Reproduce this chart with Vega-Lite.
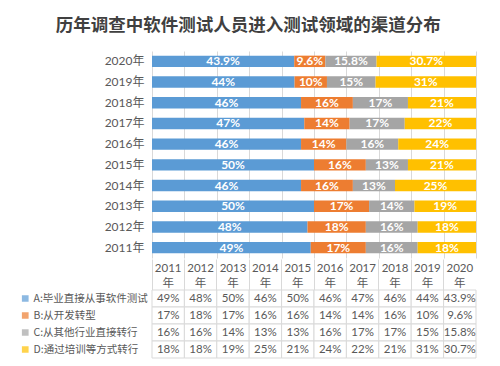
{
  "$schema": "https://vega.github.io/schema/vega-lite/v6.json",
  "background": "white",
  "padding": {"left": 20, "top": 16, "right": 20, "bottom": 5},
  "title": {"text": "历年调查中软件测试人员进入测试领域的渠道分布", "fontSize": 17.5, "font": "Noto Sans CJK SC", "fontWeight": "bold", "color": "#404040", "anchor": "middle", "frame": "bounds", "offset": 17},
  "data": {"values": [
    {"year": "2011", "series": "A:毕业直接从事软件测试", "value": 0.49},
    {"year": "2011", "series": "B:从开发转型", "value": 0.17},
    {"year": "2011", "series": "C:从其他行业直接转行", "value": 0.16},
    {"year": "2011", "series": "D:通过培训等方式转行", "value": 0.18},
    {"year": "2012", "series": "A:毕业直接从事软件测试", "value": 0.48},
    {"year": "2012", "series": "B:从开发转型", "value": 0.18},
    {"year": "2012", "series": "C:从其他行业直接转行", "value": 0.16},
    {"year": "2012", "series": "D:通过培训等方式转行", "value": 0.18},
    {"year": "2013", "series": "A:毕业直接从事软件测试", "value": 0.50},
    {"year": "2013", "series": "B:从开发转型", "value": 0.17},
    {"year": "2013", "series": "C:从其他行业直接转行", "value": 0.14},
    {"year": "2013", "series": "D:通过培训等方式转行", "value": 0.19},
    {"year": "2014", "series": "A:毕业直接从事软件测试", "value": 0.46},
    {"year": "2014", "series": "B:从开发转型", "value": 0.16},
    {"year": "2014", "series": "C:从其他行业直接转行", "value": 0.13},
    {"year": "2014", "series": "D:通过培训等方式转行", "value": 0.25},
    {"year": "2015", "series": "A:毕业直接从事软件测试", "value": 0.50},
    {"year": "2015", "series": "B:从开发转型", "value": 0.16},
    {"year": "2015", "series": "C:从其他行业直接转行", "value": 0.13},
    {"year": "2015", "series": "D:通过培训等方式转行", "value": 0.21},
    {"year": "2016", "series": "A:毕业直接从事软件测试", "value": 0.46},
    {"year": "2016", "series": "B:从开发转型", "value": 0.14},
    {"year": "2016", "series": "C:从其他行业直接转行", "value": 0.16},
    {"year": "2016", "series": "D:通过培训等方式转行", "value": 0.24},
    {"year": "2017", "series": "A:毕业直接从事软件测试", "value": 0.47},
    {"year": "2017", "series": "B:从开发转型", "value": 0.14},
    {"year": "2017", "series": "C:从其他行业直接转行", "value": 0.17},
    {"year": "2017", "series": "D:通过培训等方式转行", "value": 0.22},
    {"year": "2018", "series": "A:毕业直接从事软件测试", "value": 0.46},
    {"year": "2018", "series": "B:从开发转型", "value": 0.16},
    {"year": "2018", "series": "C:从其他行业直接转行", "value": 0.17},
    {"year": "2018", "series": "D:通过培训等方式转行", "value": 0.21},
    {"year": "2019", "series": "A:毕业直接从事软件测试", "value": 0.44},
    {"year": "2019", "series": "B:从开发转型", "value": 0.10},
    {"year": "2019", "series": "C:从其他行业直接转行", "value": 0.15},
    {"year": "2019", "series": "D:通过培训等方式转行", "value": 0.31},
    {"year": "2020", "series": "A:毕业直接从事软件测试", "value": 0.439},
    {"year": "2020", "series": "B:从开发转型", "value": 0.096},
    {"year": "2020", "series": "C:从其他行业直接转行", "value": 0.158},
    {"year": "2020", "series": "D:通过培训等方式转行", "value": 0.307}
  ]},
  "spacing": 0,
  "resolve": {"legend": {"color": "independent"}},
  "vconcat": [
    {
      "width": 324,
      "height": 207,
      "encoding": {
        "y": {"field": "year", "type": "nominal", "sort": "descending", "scale": {"paddingInner": 0.45, "paddingOuter": 0.225},
          "axis": {"title": null, "labelExpr": "datum.label + '年'", "ticks": false, "domain": false, "labelPadding": 8, "labelFontSize": 12, "labelColor": "#595959", "labelFont": "Lato, Noto Sans CJK SC"}},
        "x": {"field": "value", "type": "quantitative", "stack": "zero", "scale": {"domain": [0, 1]},
          "axis": {"title": null, "labels": false, "ticks": false, "domain": false, "grid": true, "gridColor": "#d9d9d9", "values": [0, 0.1, 0.2, 0.3, 0.4, 0.5, 0.6, 0.7, 0.8, 0.9, 1], "minExtent": 0, "maxExtent": 0}},
        "order": {"field": "series", "type": "nominal"}
      },
      "layer": [
        {
          "mark": {"type": "bar"},
          "encoding": {
            "color": {"field": "series", "type": "nominal", "scale": {"range": ["#5B9BD5", "#ED7D31", "#A5A5A5", "#FFC000"]}, "legend": null}
          }
        },
        {
          "mark": {"type": "text", "color": "white", "fontSize": 12, "font": "Lato", "fontWeight": "bold"},
          "encoding": {
            "x": {"field": "value", "type": "quantitative", "stack": "zero", "bandPosition": 0.5},
            "detail": {"field": "series", "type": "nominal"},
            "text": {"field": "value", "type": "quantitative", "format": ".1~%"}
          }
        }
      ]
    },
    {
      "width": 324,
      "height": 68,
      "encoding": {
        "x": {"field": "year", "type": "ordinal", "scale": {"type": "band", "paddingInner": 0, "paddingOuter": 0},
          "axis": {"orient": "top", "title": null, "labelExpr": "[datum.label, '年']", "labelAngle": 0, "labelBaseline": "top", "ticks": true, "tickSize": 31, "tickColor": "#d9d9d9", "bandPosition": 0, "domain": false, "labelPadding": -3, "labelFontSize": 11.5, "labelLineHeight": 15, "labelColor": "#595959", "labelFont": "Lato, Noto Sans CJK SC", "minExtent": 31, "maxExtent": 31}},
        "y": {"field": "series", "type": "nominal", "scale": {"type": "band", "paddingInner": 0, "paddingOuter": 0}, "axis": null}
      },
      "layer": [
        {
          "mark": {"type": "square", "size": 30},
          "encoding": {
            "color": {"field": "series", "type": "nominal",
              "legend": {"title": null, "orient": "left", "symbolType": "square", "symbolSize": 45, "symbolStrokeWidth": 0, "labelFontSize": 10.5, "labelColor": "#595959", "labelFont": "Noto Sans CJK SC", "clipHeight": 17, "rowPadding": 0, "padding": 0, "offset": 4, "labelLimit": 200, "labelOffset": 3}}
          }
        },
        {
          "mark": {"type": "rect", "fill": "white", "stroke": "#d9d9d9", "strokeWidth": 1}
        },
        {
          "mark": {"type": "text", "color": "#595959", "fontSize": 11.5, "font": "Lato"},
          "encoding": {
            "text": {"field": "value", "type": "quantitative", "format": ".1~%"}
          }
        }
      ]
    }
  ],
  "config": {"view": {"stroke": null}}
}
